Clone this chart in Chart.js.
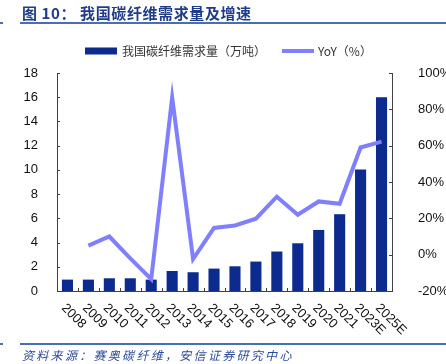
<!DOCTYPE html>
<html lang="zh">
<head>
  <meta charset="UTF-8" />
  <title>我国碳纤维需求量及增速</title>
  <script src="https://cdn.jsdelivr.net/npm/chart.js"></script>
  <style>
    html, body { margin: 0; padding: 0; background: #fff; }
    #wrap { position: relative; width: 446px; height: 364px; overflow: hidden; }
    #title {
      position: absolute; left: 22px; top: 2px; white-space: nowrap;
      font: bold 15px "Noto Sans CJK SC", sans-serif; color: #1f3c88; letter-spacing: 0.6px;
    }
    .rule { position: absolute; left: 20px; right: 0; height: 2px; background: #4a6db5; }
    .stub { position: absolute; left: 0; width: 3px; height: 2px; background: #4a6db5; }
    #source {
      position: absolute; left: 22px; top: 346px; white-space: nowrap;
      font: italic 12px "Noto Sans CJK SC", sans-serif; color: #2c4a9c; letter-spacing: 2.3px;
    }
    canvas { position: absolute; left: 0; top: 0; }
  </style>
</head>

<body>
  <div id="wrap">
    <canvas id="demandChart" width="446" height="364"></canvas>
    <div id="title">图 10： 我国碳纤维需求量及增速</div>
    <div class="rule" style="top:22px"></div>
    <div class="stub" style="top:22px"></div>
    <div class="rule" style="top:343px;height:1.5px"></div>
    <div class="stub" style="top:343px;height:1.5px"></div>
    <div id="source">资料来源：赛奥碳纤维，安信证券研究中心</div>
  </div>

  <script>
    // data
    const years = ['2008', '2009', '2010', '2011', '2012', '2013', '2014', '2015', '2016',
      '2017', '2018', '2019', '2020', '2021', '2023E', '2025E'];
    const demand = [0.94, 0.94, 1.05, 1.05, 0.94, 1.65, 1.55, 1.85, 2.04,
      2.43, 3.26, 3.94, 5.04, 6.34, 10.03, 16.0];   // 万吨
    const yoy = [null, 5, 10, -2, -13.5, 86.5, -2.4, 14.7, 16.1,
      19.8, 31.9, 22, 29.3, 28, 59, 62.2];          // %
    const leftAxis = { min: 0, max: 18, step: 2 };
    const rightAxis = { min: -20, max: 100, step: 20 };

    const barColor = '#0d2a8e';
    const lineColor = '#7f7fff';
    const tickFont = '13px "Liberation Sans", Arial, sans-serif';

    // inner tick marks, rotated year labels and the legend
    const decor = {
      id: 'decor',
      afterDraw(chart) {
        const ctx = chart.ctx;
        const area = chart.chartArea;
        const x = chart.scales.x, y = chart.scales.y, y1 = chart.scales.y1;
        ctx.save();
        ctx.strokeStyle = '#404040';
        ctx.lineWidth = 1;
        ctx.beginPath();
        y.ticks.forEach(t => {
          const py = Math.round(y.getPixelForValue(t.value)) + 0.5;
          ctx.moveTo(area.left, py); ctx.lineTo(area.left + 3, py);
        });
        y1.ticks.forEach(t => {
          const py = Math.round(y1.getPixelForValue(t.value)) + 0.5;
          ctx.moveTo(area.right - 3, py); ctx.lineTo(area.right, py);
        });
        const step = (area.right - area.left) / years.length;
        for (let i = 1; i < years.length; i++) {
          const px = Math.round(area.left + i * step) + 0.5;
          ctx.moveTo(px, area.bottom); ctx.lineTo(px, area.bottom - 3);
        }
        ctx.stroke();

        // x labels, turned 45deg clockwise
        ctx.fillStyle = '#111';
        ctx.font = tickFont;
        ctx.textAlign = 'left';
        ctx.textBaseline = 'middle';
        years.forEach((lab, i) => {
          const px = x.getPixelForValue(i);
          ctx.save();
          ctx.translate(px - 4, area.bottom + 15);
          ctx.rotate(Math.PI / 4);
          ctx.fillText(lab, 0, 0);
          ctx.restore();
        });

        // legend
        const ds = chart.data.datasets;
        ctx.font = '12px "Noto Sans CJK SC", sans-serif';
        ctx.fillStyle = ds[0].backgroundColor;
        ctx.fillRect(85, 47.5, 32, 7);
        ctx.fillStyle = '#333';
        ctx.fillText(ds[0].label, 122, 51);
        ctx.strokeStyle = ds[1].borderColor;
        ctx.lineWidth = 4;
        ctx.beginPath();
        ctx.moveTo(282, 51); ctx.lineTo(314, 51);
        ctx.stroke();
        ctx.fillText(ds[1].label, 318, 51);
        ctx.restore();
      }
    };

    new Chart(document.getElementById('demandChart'), {
      type: 'bar',
      data: {
        labels: years,
        datasets: [{
          type: 'bar',
          label: '我国碳纤维需求量（万吨）',
          data: demand,
          backgroundColor: barColor,
          yAxisID: 'y',
          categoryPercentage: 1,
          barPercentage: 0.53,
          order: 2
        }, {
          type: 'line',
          label: 'YoY（%）',
          data: yoy,
          borderColor: lineColor,
          backgroundColor: lineColor,
          borderWidth: 4,
          pointRadius: 0,
          tension: 0,
          yAxisID: 'y1',
          order: 1
        }]
      },
      options: {
        responsive: false,
        animation: false,
        layout: { padding: { top: 73, left: 0, right: 0, bottom: 0 } },
        plugins: { legend: { display: false }, tooltip: { enabled: false } },
        scales: {
          x: {
            grid: { display: false },
            border: { display: true, color: '#404040', width: 1 },
            ticks: { display: false },
            afterFit: s => { s.height = 73; }
          },
          y: {
            position: 'left',
            min: leftAxis.min, max: leftAxis.max,
            grid: { display: false },
            border: { display: true, color: '#404040', width: 1 },
            ticks: { stepSize: leftAxis.step, color: '#111', font: { family: '"Liberation Sans", Arial', size: 13 }, padding: 11 },
            afterFit: s => { s.width = 57; }
          },
          y1: {
            position: 'right',
            min: rightAxis.min, max: rightAxis.max,
            grid: { display: false },
            border: { display: true, color: '#404040', width: 1 },
            ticks: {
              stepSize: rightAxis.step, color: '#111', padding: 18,
              font: { family: '"Liberation Sans", Arial', size: 13 },
              callback: v => v + '%'
            },
            afterFit: s => { s.width = 54; }
          }
        }
      },
      plugins: [decor]
    });
  </script>
</body>

</html>
